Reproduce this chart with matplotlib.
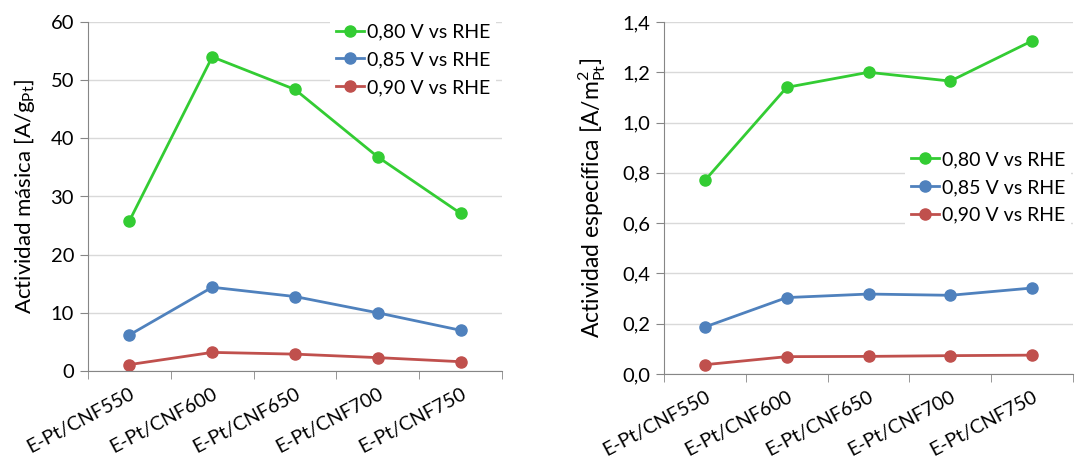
import matplotlib.pyplot as plt
from matplotlib.ticker import FuncFormatter, MultipleLocator

plt.rcParams['font.family'] = ['Lato', 'DejaVu Sans']

samples = ['E-Pt/CNF550', 'E-Pt/CNF600', 'E-Pt/CNF650', 'E-Pt/CNF700', 'E-Pt/CNF750']
series_labels = ['0,80 V vs RHE', '0,85 V vs RHE', '0,90 V vs RHE']
colors = ['#33CC33', '#4F81BD', '#C0504D']

# mass activity [A/g_Pt]
mass_080 = [25.8, 54.0, 48.4, 36.8, 27.1]
mass_085 = [6.2, 14.4, 12.8, 10.0, 7.0]
mass_090 = [1.1, 3.2, 2.9, 2.3, 1.6]

# specific activity [A/m2_Pt]
spec_080 = [0.77, 1.14, 1.20, 1.165, 1.325]
spec_085 = [0.187, 0.304, 0.318, 0.313, 0.342]
spec_090 = [0.037, 0.069, 0.070, 0.073, 0.075]

W, H = 1077, 461
fig = plt.figure(figsize=(W / 100, H / 100), dpi=100)
ax1 = fig.add_axes([88 / W, (H - 371) / H, (502 - 88) / W, (371 - 22) / H])
ax2 = fig.add_axes([664 / W, (H - 374) / H, (1073 - 664) / W, (374 - 22) / H])

x = list(range(len(samples)))


def style_axis(ax, ymax, ystep, fmt):
    ax.set_xlim(-0.5, len(samples) - 0.5)
    ax.set_ylim(0, ymax)
    ax.yaxis.set_major_locator(MultipleLocator(ystep))
    ax.yaxis.set_major_formatter(FuncFormatter(fmt))
    ax.set_xticks(x)
    ax.set_xticklabels(samples, rotation=28, ha='right', rotation_mode='anchor')
    ax.set_xticks([i - 0.5 for i in range(len(samples) + 1)], minor=True)
    ax.tick_params(axis='x', which='major', length=0, pad=10, labelsize=14)
    ax.tick_params(axis='x', which='minor', length=6, color='#868686')
    ax.tick_params(axis='y', length=6, color='#868686', labelsize=14.5, pad=4)
    ax.grid(axis='y', color='#D9D9D9', linewidth=1)
    ax.set_axisbelow(True)
    for side in ['top', 'right']:
        ax.spines[side].set_visible(False)
    for side in ['left', 'bottom']:
        ax.spines[side].set_color('#868686')


style_axis(ax1, 60, 10, lambda v, p: f'{v:.0f}')
style_axis(ax2, 1.4, 0.2, lambda v, p: f'{v:.1f}'.replace('.', ','))

for ax, data in [(ax1, [mass_080, mass_085, mass_090]),
                 (ax2, [spec_080, spec_085, spec_090])]:
    for vals, lab, c in zip(data, series_labels, colors):
        ax.plot(x, vals, color=c, lw=2, marker='o', markersize=8, label=lab)

ax1.set_ylabel('Actividad másica [A/g$_{\\mathregular{Pt}}$]', fontsize=16, labelpad=10)
ax2.set_ylabel('Actividad específica [A/m$^{\\mathregular{2}}_{\\mathregular{Pt}}$]', fontsize=16.5, labelpad=10)

leg_kw = dict(fontsize=14, frameon=True, facecolor='white', edgecolor='none', framealpha=1,
              handlelength=1.45, handletextpad=0.15, labelspacing=0.55, borderpad=0.3)
ax1.legend(loc='upper right', bbox_to_anchor=(1.01, 1.04), **leg_kw)
ax2.legend(loc='center right', bbox_to_anchor=(1.02, 0.53), **leg_kw)

fig.savefig('out.png', dpi=100)
